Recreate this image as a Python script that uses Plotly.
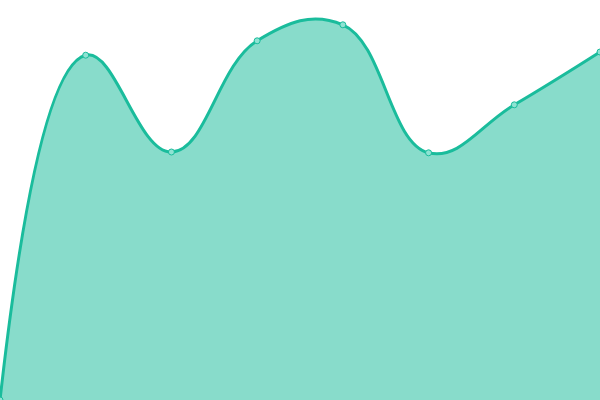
import plotly.graph_objects as go

x_vals = [0, 1, 2, 3, 4, 5, 6, 7]
y_vals = [0, 86.2, 62, 89.8, 93.8, 61.8, 73.8, 87]

fig = go.Figure()
fig.add_trace(go.Scatter(
    x=x_vals,
    y=y_vals,
    mode='lines+markers',
    fill='tozeroy',
    fillcolor='rgba(26,188,156,0.52)',
    line=dict(color='#1abc9c', width=3, shape='spline', smoothing=1.2),
    marker=dict(size=6, color='#8fe3d3', line=dict(color='#1abc9c', width=1)),
))

fig.update_layout(
    width=600,
    height=400,
    margin=dict(l=0, r=0, t=0, b=0),
    paper_bgcolor='white',
    plot_bgcolor='white',
    showlegend=False,
    xaxis=dict(range=[0, 7], visible=False),
    yaxis=dict(range=[0, 100], visible=False),
)

# drop the default body margin so the plot sits flush in the window
fig.write_html("out.html", config={'displayModeBar': False},
               post_script="document.body.style.margin='0';")
